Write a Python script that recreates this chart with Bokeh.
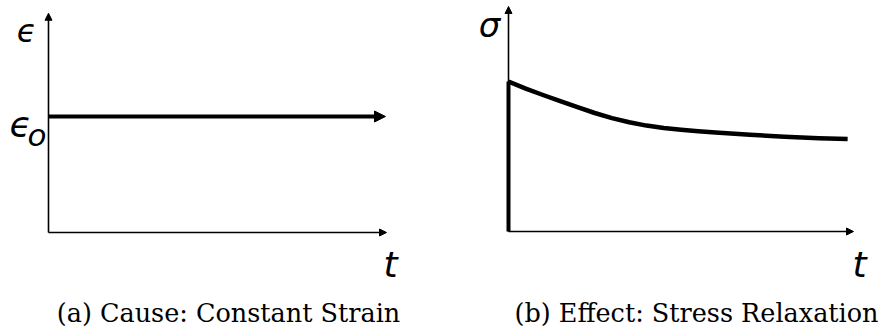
from bokeh.plotting import figure
from bokeh.layouts import row
from bokeh.models import Arrow, NormalHead, Label, Range1d
from bokeh.embed import file_html
from bokeh.resources import INLINE

# ---------------- data ----------------
t_axis_end = 10.0            # length of the time axis (arbitrary units)
strain_axis_top = 1.89       # top of the strain axis, in units of eps_0
stress_axis_top = 1.50       # top of the stress axis, in units of sigma_0

strain_t = [0.0, 9.97]
strain_val = [1.0, 1.0]      # constant strain eps_0

stress_t = [0.0, 0.5, 1.0, 1.5, 2.0, 2.5, 3.0, 3.5, 4.0, 4.5, 5.0, 5.5, 6.0, 7.0, 8.0, 9.0, 9.83]
stress_val = [1.0, 0.953, 0.910, 0.869, 0.829, 0.790, 0.756, 0.728, 0.706, 0.690, 0.678,
              0.668, 0.660, 0.645, 0.632, 0.622, 0.616]
stress_jump_t = [0.0, 0.0]
stress_jump_val = [0.0, 1.0]

captions = ["(a) Cause: Constant Strain", "(b) Effect: Stress Relaxation"]
y_labels = ["\u03f5", "\u03c3"]
strain_level_label = ["\u03f5", "o"]
x_label = "t"

# ---------------- layout (pixels) ----------------
H = 333
W1, OX1, OY1, SX1, SY1 = 448, 48, 101, 33.8, 116.0
W2, OX2, OY2, SX2, SY2 = 430, 60, 102, 34.5, 150.0
LABEL_SHIFT = 8  # text baseline correction


def make_fig(W, ox, oy, sx, sy):
    p = figure(width=W, height=H,
               x_range=Range1d(-ox / sx, (W - ox) / sx),
               y_range=Range1d(-oy / sy, (H - oy) / sy),
               x_axis_type=None, y_axis_type=None,
               toolbar_location=None, output_backend="svg", min_border=0)
    p.outline_line_color = None
    p.background_fill_color = "white"
    p.border_fill_color = "white"
    return p


def pos(px, py_top, ox, oy, sx, sy):
    """local pixel (x from left, y from top) -> data coords"""
    return (px - ox) / sx, (H - py_top - oy) / sy


def add_label(p, geo, px, py, text, size, font="DejaVu Sans", style="italic", align="center"):
    x, y = pos(px, py - LABEL_SHIFT, *geo)
    p.add_layout(Label(x=x, y=y, text=text, text_font=font, text_font_style=style,
                       text_font_size=size, text_align=align, text_baseline="alphabetic",
                       text_color="black"))


def axis_arrows(p, ytop):
    p.add_layout(Arrow(x_start=0, y_start=0, x_end=t_axis_end, y_end=0, line_width=1.6,
                       line_color="black",
                       end=NormalHead(size=7, fill_color="black", line_color="black", line_width=1)))
    p.add_layout(Arrow(x_start=0, y_start=0, x_end=0, y_end=ytop, line_width=1.6,
                       line_color="black",
                       end=NormalHead(size=7, fill_color="black", line_color="black", line_width=1)))


# ---------- left panel ----------
g1 = (OX1, OY1, SX1, SY1)
p1 = make_fig(W1, *g1)
axis_arrows(p1, strain_axis_top)
p1.add_layout(Arrow(x_start=strain_t[0], y_start=strain_val[0], x_end=strain_t[1], y_end=strain_val[1],
                    line_width=4, line_color="black",
                    end=NormalHead(size=11, fill_color="black", line_color="black", line_width=1)))
add_label(p1, g1, 26, 38, y_labels[0], "32px")
add_label(p1, g1, 9, 132, strain_level_label[0], "36px", align="left")
add_label(p1, g1, 27, 142, strain_level_label[1], "31px", align="left")
add_label(p1, g1, 390, 272, x_label, "36px")
add_label(p1, g1, 228, 320, captions[0], "25.5px", font="DejaVu Serif", style="normal")

# ---------- right panel ----------
g2 = (OX2, OY2, SX2, SY2)
p2 = make_fig(W2, *g2)
axis_arrows(p2, stress_axis_top)
p2.line(stress_jump_t, stress_jump_val, line_width=4, line_color="black")
p2.line(stress_t, stress_val, line_width=4.5, line_color="black", line_join="round")
add_label(p2, g2, 41, 32, y_labels[1], "34px")
add_label(p2, g2, 411, 272, x_label, "36px")
add_label(p2, g2, 248, 320, captions[1], "25.5px", font="DejaVu Serif", style="normal")

layout = row(p1, p2)
open("out.html", "w").write(file_html(layout, INLINE))
